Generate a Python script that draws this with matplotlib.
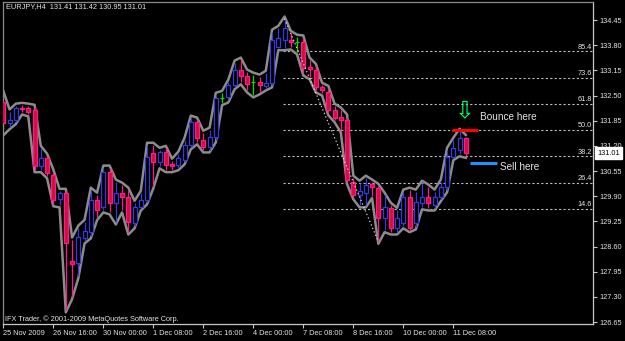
import matplotlib
matplotlib.use('Agg')
import matplotlib.pyplot as plt
import matplotlib.transforms as mtransforms
from matplotlib.patches import Rectangle
import numpy as np

plt.rcParams['font.family'] = ['Liberation Sans', 'DejaVu Sans']

# ---- data (EURJPY H4) ----
opens = [132.34, 131.79, 131.87, 132.19, 132.18, 132.13, 130.68, 130.89, 130.45, 129.83,
         129.98, 128.22, 128.17, 128.82, 128.97, 129.80, 129.62, 130.53, 129.72, 129.98,
         129.88, 129.21, 129.62, 129.80, 131.02, 130.78, 131.04, 130.73, 130.71, 130.83,
         131.22, 131.82, 131.35, 131.17, 131.43, 132.44, 132.46, 132.77, 133.16, 133.00,
         132.85, 132.85, 132.75, 132.82, 133.75, 133.93, 133.93, 133.88, 133.88, 133.24,
         133.16, 132.72, 132.59, 132.13, 131.95, 131.87, 130.27, 129.93, 129.98, 130.22,
         130.11, 129.34, 129.59, 129.08, 129.21, 129.88, 129.21, 129.72, 129.88, 129.67,
         129.88, 130.14, 130.91, 131.09, 131.41]
highs = [132.56, 132.08, 132.23, 132.25, 132.23, 132.20, 131.14, 130.94, 130.53, 130.03,
         130.03, 128.77, 129.08, 129.23, 130.06, 129.93, 130.63, 130.63, 130.27, 130.19,
         130.06, 129.72, 129.98, 131.22, 131.22, 131.09, 131.14, 130.81, 130.99, 131.35,
         131.92, 131.87, 131.53, 131.61, 132.51, 132.56, 132.85, 133.34, 133.42, 133.11,
         133.03, 132.98, 133.08, 134.14, 134.24, 134.48, 134.11, 134.01, 133.99, 133.42,
         133.26, 132.77, 132.69, 132.23, 132.13, 131.95, 130.37, 130.24, 130.37, 130.27,
         130.16, 129.93, 129.67, 129.54, 130.01, 130.06, 130.01, 130.24, 130.14, 130.01,
         130.27, 131.09, 131.35, 131.58, 131.42]
lows = [131.53, 131.69, 131.82, 132.07, 132.02, 130.58, 130.58, 130.42, 129.70, 129.67,
        126.96, 127.30, 127.84, 128.74, 128.87, 129.34, 129.54, 129.49, 129.23, 129.54,
        128.97, 129.13, 129.59, 129.75, 130.16, 130.68, 130.58, 130.58, 130.63, 130.78,
        131.17, 131.30, 131.09, 131.09, 131.35, 132.31, 132.38, 132.72, 132.85, 132.64,
        132.51, 132.59, 132.69, 132.77, 133.73, 133.73, 133.75, 133.62, 133.08, 132.98,
        132.64, 132.56, 132.05, 131.87, 131.61, 130.27, 129.88, 129.67, 129.67, 129.91,
        128.73, 129.03, 128.97, 128.97, 129.13, 129.03, 129.10, 129.62, 129.59, 129.59,
        129.83, 130.06, 130.89, 130.99, 130.95]
closes = [131.78, 131.87, 132.19, 132.16, 132.07, 130.68, 130.89, 130.50, 129.80, 129.98,
          128.69, 128.15, 128.85, 129.00, 129.80, 129.54, 130.53, 129.72, 129.98, 129.88,
          129.23, 129.62, 129.80, 130.91, 130.78, 131.04, 130.71, 130.68, 130.89, 131.22,
          131.82, 131.40, 131.17, 131.43, 132.44, 132.44, 132.77, 133.16, 133.00, 132.80,
          132.85, 132.77, 132.82, 133.93, 133.99, 134.24, 133.88, 133.88, 133.21, 133.18,
          132.72, 132.64, 132.13, 131.92, 131.87, 130.32, 129.93, 130.03, 130.19, 130.14,
          129.34, 129.62, 129.08, 129.34, 129.88, 129.08, 129.75, 129.88, 129.72, 129.88,
          130.14, 130.91, 131.14, 131.40, 131.01]

x_tick_bars = [0, 8, 16, 24, 32, 40, 48, 56, 64, 72]
x_tick_labels = ['25 Nov 2009', '26 Nov 16:00', '30 Nov 00:00', '1 Dec 08:00',
                 '2 Dec 16:00', '4 Dec 00:00', '7 Dec 08:00', '8 Dec 16:00',
                 '10 Dec 00:00', '11 Dec 08:00']
y_ticks = [134.45, 133.80, 133.15, 132.50, 131.85, 131.20, 130.55, 129.90,
           129.25, 128.60, 127.95, 127.30, 126.65]
fib_ratios = [14.6, 26.4, 38.2, 50.0, 61.8, 73.6, 85.4]
fib_high_bar = 45
fib_low_bar = 60
last_price = 131.01
title_text = 'EURJPY,H4  131.41 131.42 130.95 131.01'
copyright_text = 'IFX Trader, \u00a9 2001-2009 MetaQuotes Software Corp.'
bounce_level = 131.61
sell_level = 130.75

# ---- style ----
BULL = '#3A3AD8'
BEAR_FILL = '#D0103C'
BEAR_EDGE = '#FF1A8C'
DOJI = '#00E000'
ENV = '#8C8C8C'
TXT = '#E4E4E4'
FS = 5.3

fig = plt.figure(figsize=(6.25, 3.41), dpi=100)
fig.patch.set_facecolor('black')
ax = fig.add_axes([3 / 625, 17 / 341, 590 / 625, 322 / 341])
ax.set_facecolor('black')
ax.set_xlim(-0.05, 94.35)
ax.set_ylim(126.599, 134.915)

idx = np.arange(len(opens))
o = np.array(opens); h = np.array(highs); l = np.array(lows); c = np.array(closes)

# envelope lines around highs / lows
ax.plot(idx, h + 0.06, color=ENV, lw=1.8, zorder=1, solid_joinstyle='round')
ax.plot(idx, l - 0.06, color=ENV, lw=1.8, zorder=1, solid_joinstyle='round')

bw = 0.62
for i in idx:
    if c[i] > o[i]:
        col = BULL
        ax.vlines(i, l[i], h[i], color=col, lw=0.9, zorder=2)
        ax.add_patch(Rectangle((i - bw / 2, o[i]), bw, c[i] - o[i], facecolor='black',
                               edgecolor=col, lw=0.9, zorder=3))
    elif c[i] < o[i]:
        ax.vlines(i, l[i], h[i], color=BEAR_EDGE, lw=0.9, zorder=2)
        ax.add_patch(Rectangle((i - bw / 2, c[i]), bw, o[i] - c[i], facecolor=BEAR_FILL,
                               edgecolor=BEAR_EDGE, lw=0.9, zorder=3))
    else:
        ax.vlines(i, l[i], h[i], color=DOJI, lw=0.9, zorder=2)
        ax.hlines(o[i], i - bw / 2, i + bw / 2, color=DOJI, lw=0.9, zorder=3)

# Fibonacci retracement
fh = h[fib_high_bar]; fl = l[fib_low_bar]
ax.plot([fib_high_bar, fib_low_bar], [fh, fl], color='#E0E0E0', lw=0.8,
        ls=(0, (1.2, 2.2)), zorder=4)
blend = mtransforms.blended_transform_factory(ax.transAxes, ax.transData)
xmax = ax.get_xlim()[1]
for r in fib_ratios:
    lev = fl + r / 100.0 * (fh - fl)
    ax.hlines(lev, fib_high_bar - 0.25, xmax - 0.2, color='#BDBDBD', lw=0.8,
              linestyles=(0, (2.0, 2.0)), zorder=0.5)
    ax.text(0.9985, lev + 0.02, f'{r:.1f}', transform=blend, ha='right', va='bottom',
            fontsize=FS, color=TXT, zorder=5)

# annotations
ax.hlines(bounce_level, 71.8, 75.9, color='#FF0000', lw=2.2, zorder=5)
ax.hlines(sell_level, 74.7, 79.0, color='#1E90FF', lw=2.2, zorder=5)
ax.text(76.2, 131.95, 'Bounce here', color=TXT, fontsize=7.2, ha='left', va='center')
ax.text(79.5, 130.65, 'Sell here', color=TXT, fontsize=7.2, ha='left', va='center')
ax.text(73.8, 132.13, '\u21e9', color='#00FF66', fontsize=17, ha='center', va='center',
        family=['DejaVu Sans'])

# axes styling
for side in ['left', 'top']:
    ax.spines[side].set_color('#8A8A8A')
for side in ['right', 'bottom']:
    ax.spines[side].set_color('#C8C8C8')
for sp in ax.spines.values():
    sp.set_linewidth(0.9)

ax.yaxis.tick_right()
ax.set_yticks(y_ticks)
ax.set_yticklabels([f'{v:.2f}' for v in y_ticks])
ax.tick_params(axis='y', length=3, width=0.8, color='#C8C8C8', labelcolor=TXT,
               labelsize=FS, pad=1.5)
ax.set_xticks(x_tick_bars)
ax.set_xticklabels(x_tick_labels)
for t in ax.get_xticklabels():
    t.set_ha('left')
ax.tick_params(axis='x', length=3, width=0.8, color='#C8C8C8', labelcolor=TXT,
               labelsize=FS, pad=1.5)

# current price box
ax.text(1.0 + 4 / 590, last_price, f'{last_price:.2f}', transform=blend, ha='left',
        va='center', fontsize=FS, color='black', clip_on=False,
        bbox=dict(boxstyle='square,pad=0.3', fc='white', ec='white'))

fig.text(6 / 625, 1 - 7 / 341, title_text, ha='left', va='center', fontsize=FS, color=TXT)
ax.text(2 / 590, 0.004, copyright_text, transform=ax.transAxes, ha='left', va='bottom',
        fontsize=FS, color=TXT)

fig.savefig('out.png', dpi=100, facecolor='black')
